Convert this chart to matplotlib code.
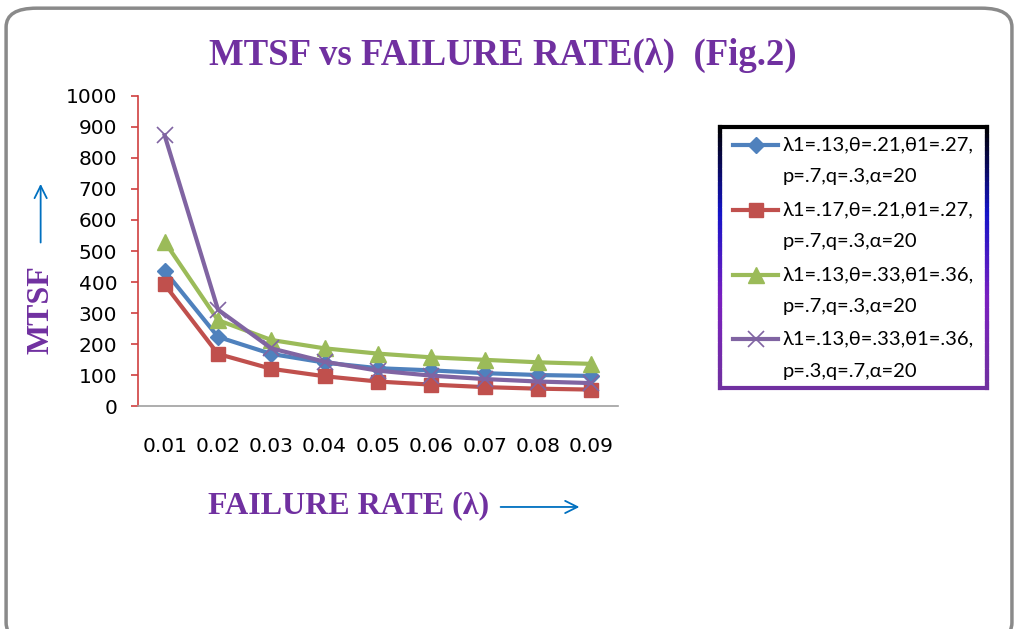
import numpy as np
import matplotlib
matplotlib.use("Agg")
import matplotlib.pyplot as plt
from matplotlib.patches import FancyBboxPatch
from matplotlib.collections import LineCollection
from matplotlib.colors import LinearSegmentedColormap
from matplotlib.legend_handler import HandlerLine2D

# data
rates = ["0.01", "0.02", "0.03", "0.04", "0.05", "0.06", "0.07", "0.08", "0.09"]
mtsf_a = [436, 223, 168, 140, 122, 115, 106, 100, 97]
mtsf_b = [392, 168, 120, 96, 79, 69, 61, 56, 53]
mtsf_c = [530, 277, 213, 186, 169, 157, 149, 141, 136]
mtsf_d = [873, 311, 186, 143, 114, 98, 87, 79, 74]
labels = ["\u03bb1=.13,\u03b8=.21,\u03b81=.27,\np=.7,q=.3,\u03b1=20",
          "\u03bb1=.17,\u03b8=.21,\u03b81=.27,\np=.7,q=.3,\u03b1=20",
          "\u03bb1=.13,\u03b8=.33,\u03b81=.36,\np=.7,q=.3,\u03b1=20",
          "\u03bb1=.13,\u03b8=.33,\u03b81=.36,\np=.3,q=.7,\u03b1=20"]

purple = "#7030A0"
arrow_blue = "#0070C0"


# legend handle sitting next to the first line of a two-line label
class FirstLineHandler(HandlerLine2D):
    def create_artists(self, legend, orig_handle, xdescent, ydescent, width, height, fontsize, trans):
        arts = super().create_artists(legend, orig_handle, xdescent, ydescent, width, height, fontsize, trans)
        for a in arts:
            a.set_ydata(np.asarray(a.get_ydata()) + fontsize * 0.78)
        return arts


fig = plt.figure(figsize=(10.16, 6.29), dpi=100)
fig.patch.set_facecolor("white")

# outer rounded frame
frame = FancyBboxPatch((0.006, -0.02), 0.990, 1.007, boxstyle="round,pad=0,rounding_size=0.03",
                       transform=fig.transFigure, facecolor="none", edgecolor="#8a8a8a", linewidth=2.5)
fig.patches.append(frame)

ax = fig.add_axes([0.1358, 0.3545, 0.4724, 0.4929])
x = np.arange(len(rates))
ax.plot(x, mtsf_a, color="#4F81BD", lw=3, marker="D", ms=8, label=labels[0])
ax.plot(x, mtsf_b, color="#C0504D", lw=3, marker="s", ms=10, label=labels[1])
ax.plot(x, mtsf_c, color="#9BBB59", lw=3, marker="^", ms=11, label=labels[2])
ax.plot(x, mtsf_d, color="#8064A2", lw=3, marker="x", ms=12, mew=1.2, label=labels[3])

ax.set_xlim(-0.5, len(rates) - 0.5)
ax.set_ylim(0, 1000)
ax.set_yticks(range(0, 1001, 100))
ax.set_xticks(x)
ax.set_xticklabels(rates)
for s in ["top", "right"]:
    ax.spines[s].set_visible(False)
ax.spines["left"].set_color("#D04040")
ax.spines["left"].set_linewidth(1.2)
ax.spines["bottom"].set_color("#a0a0a0")
ax.spines["bottom"].set_linewidth(1.2)
ax.tick_params(axis="y", direction="out", length=5, color="#D04040", width=1.2, labelsize=14.5, pad=10)
ax.tick_params(axis="x", length=0, labelsize=14.5, pad=22)

# titles
fig.text(0.4946, 0.912, "MTSF vs FAILURE RATE(\u03bb)  (Fig.2)", ha="center", va="center",
         fontsize=26.5, fontweight="bold", family="Liberation Serif", color=purple)
fig.text(0.205, 0.196, "FAILURE RATE (\u03bb)", ha="left", va="center",
         fontsize=23, fontweight="bold", family="Liberation Serif", color=purple)
fig.text(0.040, 0.508, "MTSF", ha="center", va="center", rotation=90,
         fontsize=23, fontweight="bold", family="Liberation Serif", color=purple)
# blue arrows next to the axis titles
ax.annotate("", xy=(0.573, 0.194), xytext=(0.490, 0.194), xycoords="figure fraction",
            arrowprops=dict(arrowstyle="->", color=arrow_blue, lw=1.3, mutation_scale=22))
ax.annotate("", xy=(0.040, 0.712), xytext=(0.040, 0.610), xycoords="figure fraction",
            arrowprops=dict(arrowstyle="->", color=arrow_blue, lw=1.3, mutation_scale=22))

handles = ax.get_lines()
leg = ax.legend(loc="upper left", bbox_to_anchor=(0.714, 0.796), bbox_transform=fig.transFigure,
                frameon=False, handlelength=2.2, handletextpad=0.25,
                labelspacing=0.8, borderaxespad=0, prop={"family": "Lato", "size": 14.5},
                handler_map={h: FirstLineHandler() for h in handles})
for t in leg.get_texts():
    t.set_linespacing(2.05)

# legend border with a gradient black -> blue -> purple
cmap = LinearSegmentedColormap.from_list("bd", ["#000000", "#1414c8", "#7a1fc0", "#7030A0"])
l, r, t, b = 0.709, 0.971, 0.798, 0.383
n = 60
ys = np.linspace(t, b, n + 1)
segs = []
cols = []
for xx in (l, r):
    for i in range(n):
        segs.append([(xx, ys[i]), (xx, ys[i + 1])])
        cols.append(cmap(i / (n - 1)))
segs.append([(l, t), (r, t)])
cols.append(cmap(0.0))
segs.append([(l, b), (r, b)])
cols.append(cmap(1.0))
lc = LineCollection(segs, colors=cols, linewidths=3, transform=fig.transFigure, capstyle="projecting")
fig.add_artist(lc)

fig.savefig("out.png", dpi=100)
